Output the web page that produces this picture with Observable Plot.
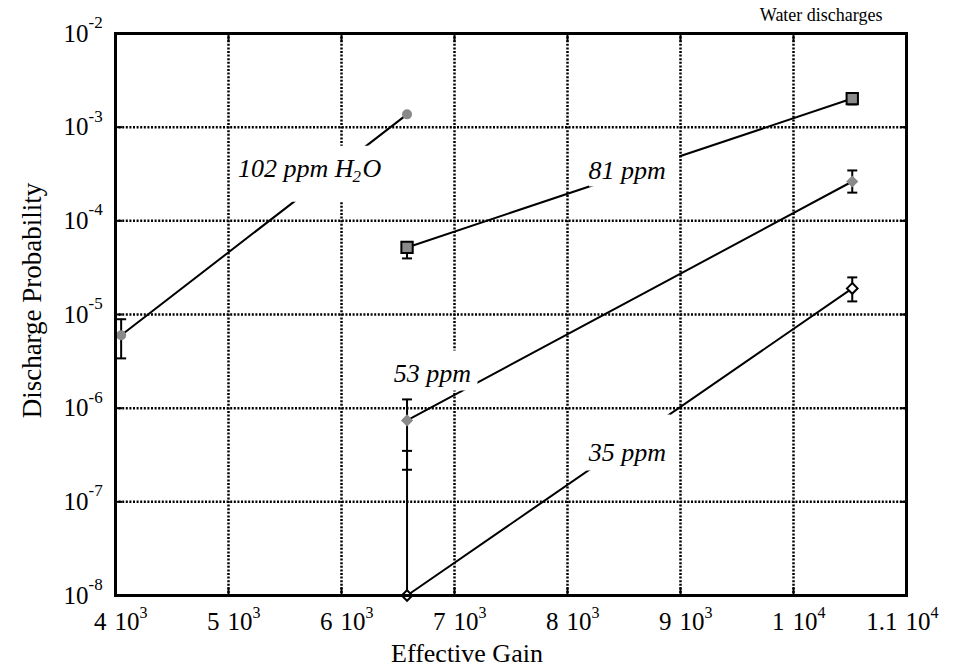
<!DOCTYPE html>
<html><head><meta charset="utf-8">
<script src="https://cdn.jsdelivr.net/npm/d3@7"></script>
<script src="https://cdn.jsdelivr.net/npm/@observablehq/plot@0.6"></script>
<style>body{margin:0;background:#fff}</style>
</head><body><div id="chart"></div>
<script>
// ---- data ----
const series = ["102 ppm", "81 ppm", "53 ppm", "35 ppm"];
const gainValues = [[4050, 6580], [6580, 10520], [6580, 10520], [6580, 10520]];
const probValues = [[6.0e-6, 1.37e-3], [5.2e-5, 2.02e-3], [7.4e-7, 2.63e-4], [1.0e-8, 1.9e-5]];
const errLow  = [[3.4e-6, null], [3.97e-5, 1.75e-3], [2.2e-7, 2.0e-4], [1.0e-8, 1.38e-5]];
const errHigh = [[8.9e-6, null], [5.8e-5, 2.29e-3], [1.24e-6, 3.45e-4], [3.5e-7, 2.49e-5]];

const labelText = ["102 ppm H", "81 ppm", "53 ppm", "35 ppm"];
const labelGain = [6106, 8527, 6805, 8531];
const labelProb = [3.6e-4, 3.45e-4, 2.35e-6, 3.37e-7];

const xTickValues = [4000, 5000, 6000, 7000, 8000, 9000, 10000, 11000];
const xTickMantissa = ["4", "5", "6", "7", "8", "9", "1", "1.1"];
const xTickExponent = ["3", "3", "3", "3", "3", "3", "4", "4"];
const xGridValues = [5000, 6000, 7000, 8000, 9000, 10000];

const yTickValues = [1e-2, 1e-3, 1e-4, 1e-5, 1e-6, 1e-7, 1e-8];
const yTickExponent = ["-2", "-3", "-4", "-5", "-6", "-7", "-8"];
const yGridValues = [1e-3, 1e-4, 1e-5, 1e-6, 1e-7];

const title = "Water discharges";
const xTitle = "Effective Gain";
const yTitle = "Discharge Probability";

// ---- build tables ----
const points = series.flatMap((s, i) => gainValues[i].map((g, j) => ({
  series: s, gain: g, prob: probValues[i][j], lo: errLow[i][j], hi: errHigh[i][j]
})));
const errs = points.filter(d => d.lo != null);
const labels = labelText.map((t, i) => ({text: t, gain: labelGain[i], prob: labelProb[i]}));
const xTicks = xTickValues.map((v, i) => ({v, m: xTickMantissa[i], e: xTickExponent[i]}));
const yTicks = yTickValues.map((v, i) => ({v, e: yTickExponent[i]}));

// white label backgrounds (pixel offsets around each label anchor)
const boxStyle = [[-121, 35, -23, 33], [-38, 52, -24, 16], [-44, 45, -23, 17], [-44, 43, -38, 18]];
const boxSymbol = ([l, r, t, b]) => ({draw(ctx) { ctx.rect(l, t, r - l, b - t); }});
const cap = {draw(ctx) { ctx.moveTo(-5, 0); ctx.lineTo(5, 0); }};
const serif = "Liberation Serif, Times New Roman, serif";
const gray = "#8a8a8a";
const dotted = {stroke: "black", strokeWidth: 2.5, strokeDasharray: "2,1.6"};
const labelStyle = {fontFamily: serif, fontStyle: "italic", fontSize: 26, fill: "black"};
const tickText = {fontFamily: serif, lineAnchor: "middle"};

const chart = Plot.plot({
  width: 968, height: 670,
  marginLeft: 115, marginRight: 62, marginTop: 33, marginBottom: 75,
  style: {fontFamily: serif, background: "white", color: "black"},
  x: {domain: [4000, 11000]},
  y: {type: "log", domain: [1e-8, 1e-2]},
  marks: [
    Plot.ruleX(xGridValues, dotted),
    Plot.ruleY(yGridValues, dotted),
    Plot.axisX(xGridValues, {anchor: "bottom", tickSize: -8, strokeWidth: 2, tickFormat: () => "", label: null}),
    Plot.axisX(xGridValues, {anchor: "top", tickSize: -8, strokeWidth: 2, tickFormat: () => "", label: null}),
    Plot.axisY(yGridValues, {anchor: "left", tickSize: -7, strokeWidth: 2, tickFormat: () => "", label: null}),
    Plot.axisY(yGridValues, {anchor: "right", tickSize: -7, strokeWidth: 2, tickFormat: () => "", label: null}),
    Plot.line(points, {x: "gain", y: "prob", z: "series", stroke: "black", strokeWidth: 2}),
    // label boxes + labels
    ...labels.map((d, i) => Plot.dot([d], {x: "gain", y: "prob", symbol: boxSymbol(boxStyle[i]), fill: "white", stroke: "none"})),
    Plot.text(labels.slice(0, 1), {x: "gain", y: "prob", text: "text", textAnchor: "end", ...labelStyle}),
    Plot.text(labels.slice(0, 1), {x: "gain", y: "prob", text: () => "O", textAnchor: "start", dx: 9, ...labelStyle}),
    Plot.text(labels.slice(0, 1), {x: "gain", y: "prob", text: () => "2", textAnchor: "start", dx: -1, dy: 8, ...labelStyle, fontSize: 17}),
    Plot.text(labels.slice(1), {x: "gain", y: "prob", text: "text", textAnchor: "middle", ...labelStyle}),
    // error bars
    Plot.ruleX(errs, {x: "gain", y1: "lo", y2: "hi", stroke: "black", strokeWidth: 2}),
    Plot.dot(errs, {x: "gain", y: "lo", symbol: cap, stroke: "black", fill: "none", strokeWidth: 2}),
    Plot.dot(errs, {x: "gain", y: "hi", symbol: cap, stroke: "black", fill: "none", strokeWidth: 2}),
    // markers
    Plot.dot(points.filter(d => d.series === "102 ppm"), {x: "gain", y: "prob", symbol: "circle", r: 5, fill: gray}),
    Plot.dot(points.filter(d => d.series === "81 ppm"), {x: "gain", y: "prob", symbol: "square", r: 6.4, fill: gray, stroke: "black", strokeWidth: 2}),
    Plot.dot(points.filter(d => d.series === "53 ppm"), {x: "gain", y: "prob", symbol: "diamond2", r: 5.5, fill: gray}),
    Plot.dot(points.filter(d => d.series === "35 ppm"), {x: "gain", y: "prob", symbol: "diamond2", r: 4.8, fill: "white", stroke: "black", strokeWidth: 2}),
    Plot.frame({stroke: "black", strokeWidth: 3}),
    // tick labels
    Plot.text(xTicks, {x: "v", frameAnchor: "bottom", dy: 26, dx: -9, text: "m", textAnchor: "end", fontSize: 25, ...tickText}),
    Plot.text(xTicks, {x: "v", frameAnchor: "bottom", dy: 26, dx: -1, text: () => "10", textAnchor: "start", fontSize: 25, ...tickText}),
    Plot.text(xTicks, {x: "v", frameAnchor: "bottom", dy: 17, dx: 24, text: "e", textAnchor: "start", fontSize: 16, ...tickText}),
    Plot.text(yTicks, {y: "v", frameAnchor: "left", dx: -27, text: () => "10", textAnchor: "end", fontSize: 25, ...tickText}),
    Plot.text(yTicks, {y: "v", frameAnchor: "left", dx: -27, dy: -11, text: "e", textAnchor: "start", fontSize: 17, ...tickText}),
    // titles
    Plot.text([title], {frameAnchor: "top-right", dx: -24, dy: -18, textAnchor: "end", lineAnchor: "middle", fontSize: 18, fontFamily: serif}),
    Plot.text([xTitle], {frameAnchor: "bottom", dx: -44, dy: 58, textAnchor: "middle", lineAnchor: "middle", fontSize: 26, fontFamily: serif}),
    Plot.text([yTitle], {frameAnchor: "left", dx: -83, dy: -14, rotate: -90, textAnchor: "middle", lineAnchor: "middle", fontSize: 27, fontFamily: serif})
  ]
});
document.getElementById("chart").appendChild(chart);
</script>
</body></html>
